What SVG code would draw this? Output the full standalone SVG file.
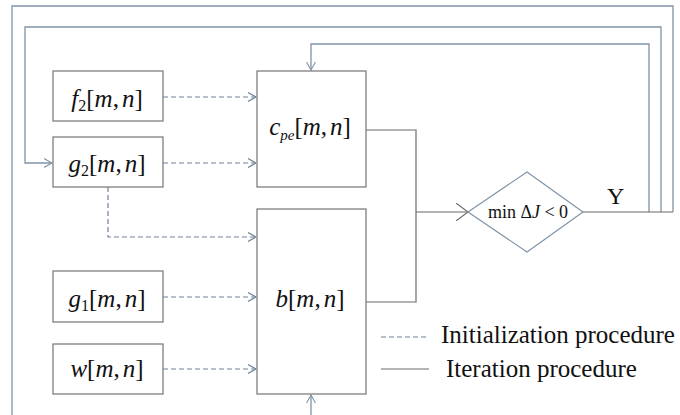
<svg xmlns="http://www.w3.org/2000/svg" width="680" height="415" viewBox="0 0 680 415" font-family="'Liberation Serif', serif">
<style>
.box{fill:#fff;stroke:#7f7f7f;stroke-width:1.3}
.solid{fill:none;stroke:#8193a6;stroke-width:1.3}
.dark{fill:none;stroke:#6b6b6b;stroke-width:1.2}
.dash{fill:none;stroke:#6f8298;stroke-width:1.2;stroke-dasharray:5 3}
.m{font-size:25px;fill:#111}
.i{font-style:italic}
.lg{font-size:25px;fill:#111}
</style>
<defs>
<marker id="ah" markerWidth="9" markerHeight="10" refX="8" refY="5" orient="auto" markerUnits="userSpaceOnUse">
<path d="M0,0.5 L8,5 L0,9.5" fill="none" stroke="#8193a6" stroke-width="1.1"/>
</marker>
<marker id="ahd" markerWidth="9" markerHeight="10" refX="8" refY="5" orient="auto" markerUnits="userSpaceOnUse">
<path d="M0,0.5 L8,5 L0,9.5" fill="none" stroke="#6f8298" stroke-width="1.1"/>
</marker>
<marker id="ahx" markerWidth="14" markerHeight="18" refX="12" refY="9" orient="auto" markerUnits="userSpaceOnUse">
<path d="M0,0 L12,9 L0,18" fill="none" stroke="#6b6b6b" stroke-width="1.1"/>
</marker>
</defs>

<g id="connectors">
<path class="solid" d="M673,212 V6 H12 V415"/>
<path class="solid" d="M311,415 V395" marker-end="url(#ah)"/>
<path class="solid" d="M661,212 V27 H25 V163 H52" marker-end="url(#ah)"/>
<path class="solid" d="M649,212 V44 H311 V70" marker-end="url(#ah)"/>
<path class="dark" d="M366,130 H416 V302 H366"/>
<path class="dark" d="M416,212 H468" marker-end="url(#ahx)"/>
<path class="dark" d="M583,212 H673"/>
<path class="dash" d="M163,97 H256" marker-end="url(#ahd)"/>
<path class="dash" d="M163,163 H256" marker-end="url(#ahd)"/>
<path class="dash" d="M108,187 V237 H256" marker-end="url(#ahd)"/>
<path class="dash" d="M163,297 H256" marker-end="url(#ahd)"/>
<path class="dash" d="M163,369 H256" marker-end="url(#ahd)"/>
</g>

<g id="f2">
<rect class="box" x="53" y="71" width="110" height="50"/>
<text class="m" x="107" y="107" text-anchor="middle" font-family="'Liberation Serif', serif"><tspan class="i">f</tspan><tspan font-size="16" dy="4">2</tspan><tspan dy="-4">[</tspan><tspan class="i">m</tspan>,<tspan class="i" dx="3">n</tspan>]</text>
</g>
<g id="g2">
<rect class="box" x="53" y="137" width="110" height="50"/>
<text class="m" x="107" y="172" text-anchor="middle" font-family="'Liberation Serif', serif"><tspan class="i">g</tspan><tspan font-size="16" dy="4">2</tspan><tspan dy="-4">[</tspan><tspan class="i">m</tspan>,<tspan class="i" dx="3">n</tspan>]</text>
</g>
<g id="g1">
<rect class="box" x="53" y="271" width="110" height="51"/>
<text class="m" x="107" y="307" text-anchor="middle" font-family="'Liberation Serif', serif"><tspan class="i">g</tspan><tspan font-size="16" dy="4">1</tspan><tspan dy="-4">[</tspan><tspan class="i">m</tspan>,<tspan class="i" dx="3">n</tspan>]</text>
</g>
<g id="w">
<rect class="box" x="53" y="344" width="110" height="50"/>
<text class="m" x="107" y="377" text-anchor="middle" font-family="'Liberation Serif', serif"><tspan class="i">w</tspan>[<tspan class="i">m</tspan>,<tspan class="i" dx="3">n</tspan>]</text>
</g>
<g id="cpe">
<rect class="box" x="257" y="71" width="109" height="116"/>
<text class="m" x="310" y="135" text-anchor="middle" font-family="'Liberation Serif', serif"><tspan class="i">c</tspan><tspan class="i" font-size="15" dy="5">pe</tspan><tspan dy="-5">[</tspan><tspan class="i">m</tspan>,<tspan class="i" dx="3">n</tspan>]</text>
</g>
<g id="b">
<rect class="box" x="257" y="209" width="109" height="185"/>
<text class="m" x="310" y="307" text-anchor="middle" font-family="'Liberation Serif', serif"><tspan class="i">b</tspan>[<tspan class="i">m</tspan>,<tspan class="i" dx="3">n</tspan>]</text>
</g>
<g id="decision">
<path d="M468,212 L527,172 L583,212 L527,252 Z" fill="#fff" stroke="#8193a6" stroke-width="1.2"/>
<text x="528" y="218" text-anchor="middle" font-size="18" fill="#111" font-family="'Liberation Serif', serif">min Δ<tspan font-style="italic">J</tspan> &lt; 0</text>
</g>
<text x="607" y="204" font-size="24" fill="#111" font-family="'Liberation Serif', serif">Y</text>

<g id="legend">
<path class="dash" d="M381,337 H429" stroke-dasharray="3 2"/>
<text class="lg" x="441" y="343" font-family="'Liberation Serif', serif">Initialization procedure</text>
<path class="dark" d="M381,369 H429"/>
<text class="lg" x="446" y="377" font-family="'Liberation Serif', serif">Iteration procedure</text>
</g>
</svg>
